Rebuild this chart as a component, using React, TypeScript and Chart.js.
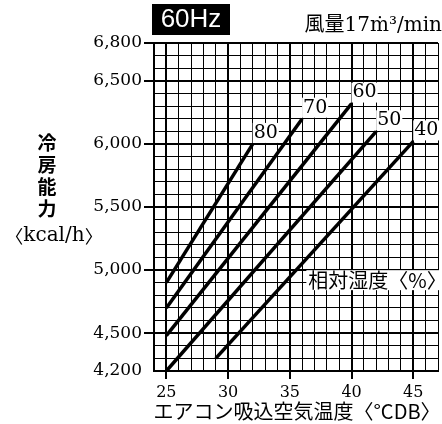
import React, { useEffect, useRef } from "react";
import { Chart, registerables } from "chart.js";

Chart.register(...registerables);

// Relative humidity curves (%), each a straight segment start -> end
const RH_LABELS = ["80", "70", "60", "50", "40"];
const START_TEMP = [25, 25, 25, 25, 29];
const START_CAP = [4900, 4700, 4480, 4200, 4300];
const END_TEMP = [32, 36, 40, 42, 45];
const END_CAP = [6000, 6200, 6320, 6100, 6020];

const X_TICKS = [25, 30, 35, 40, 45];
const Y_TICKS = [4200, 4500, 5000, 5500, 6000, 6500, 6800];

const X_MIN = 24;
const X_MAX = 47;
const Y_MIN = 4200;
const Y_MAX = 6800;

const TITLE_BOX = "60Hz";
const TITLE_RIGHT = "風量17ṁ³/min";
const Y_TITLE_CHARS = ["冷", "房", "能", "力"];
const Y_TITLE_UNIT = ["〈", "kcal/h", "〉"];
const X_TITLE = "エアコン吸込空気温度〈°CDB〉";
const RH_TITLE = "相対湿度〈%〉";

const SERIF = '"DejaVu Serif", "Noto Sans CJK JP", serif';
const CJK = '"Noto Sans CJK JP", "DejaVu Serif", sans-serif';

const textPlugin = {
  id: "texts",
  afterDraw(chart: any) {
    const ctx = chart.ctx;
    const xs = chart.scales.x;
    const ys = chart.scales.y;
    ctx.save();
    // 60Hz box
    ctx.fillStyle = "#000";
    ctx.fillRect(152, 4, 78, 31);
    ctx.fillStyle = "#fff";
    ctx.font = '26px "Liberation Sans", sans-serif';
    ctx.textAlign = "center";
    ctx.textBaseline = "middle";
    ctx.fillText(TITLE_BOX, 191, 20);
    // air flow
    ctx.fillStyle = "#000";
    ctx.font = "20px " + SERIF;
    ctx.textAlign = "right";
    ctx.textBaseline = "alphabetic";
    ctx.fillText(TITLE_RIGHT, 442, 31);
    // x title
    ctx.textAlign = "center";
    ctx.textBaseline = "middle";
    ctx.font = "20px " + CJK;
    ctx.fillText(X_TITLE, (xs.left + xs.right) / 2 + 1, 411);
    // y title
    ctx.font = "bold 19px " + CJK;
    Y_TITLE_CHARS.forEach((c, i) => ctx.fillText(c, 47, 143 + i * 22));
    // unit, pieces drawn left to right
    const fonts = ["18px " + CJK, "20px " + SERIF, "18px " + CJK];
    const widths = Y_TITLE_UNIT.map((t, i) => {
      ctx.font = fonts[i];
      return ctx.measureText(t).width;
    });
    const total = widths.reduce((a, b) => a + b, 0);
    let ux = 54 - total / 2;
    ctx.textAlign = "left";
    Y_TITLE_UNIT.forEach((t, i) => {
      ctx.font = fonts[i];
      ctx.fillText(t, ux, 236);
      ux += widths[i];
    });
    // line labels
    ctx.textAlign = "center";
    ctx.font = "19px " + SERIF;
    RH_LABELS.forEach((lab, i) => {
      const px = xs.getPixelForValue(END_TEMP[i]) + 13;
      const py = ys.getPixelForValue(END_CAP[i]) - 11;
      const w = ctx.measureText(lab).width;
      ctx.fillStyle = "#fff";
      ctx.fillRect(px - w / 2 - 1, py - 10, w + 2, 20);
      ctx.fillStyle = "#000";
      ctx.fillText(lab, px, py);
    });
    // RH title
    ctx.font = "20px " + CJK;
    ctx.textAlign = "left";
    const rx = xs.getPixelForValue(36.5);
    const ry = ys.getPixelForValue(4920);
    const rw = ctx.measureText(RH_TITLE).width;
    ctx.fillStyle = "#fff";
    ctx.fillRect(rx - 2, ry - 10, rw + 4, 20);
    ctx.fillStyle = "#000";
    ctx.fillText(RH_TITLE, rx, ry);
    ctx.restore();
  },
};

export default function App() {
  const ref = useRef<HTMLCanvasElement | null>(null);
  useEffect(() => {
    if (!ref.current) return;
    const datasets = RH_LABELS.map((lab, i) => ({
      label: lab,
      data: [
        { x: START_TEMP[i], y: START_CAP[i] },
        { x: END_TEMP[i], y: END_CAP[i] },
      ],
      borderColor: "#000",
      borderWidth: 3.5,
      pointRadius: 0,
      fill: false,
    }));
    const chart = new Chart(ref.current, {
      type: "line",
      data: { datasets },
      plugins: [textPlugin],
      options: {
        responsive: false,
        animation: false,
        events: [],
        layout: { padding: { top: 43, left: 0, right: 0, bottom: 0 } },
        plugins: { legend: { display: false }, tooltip: { enabled: false } },
        scales: {
          x: {
            type: "linear",
            min: X_MIN,
            max: X_MAX,
            afterBuildTicks: (s: any) => {
              const t = [];
              for (let v = X_MIN; v <= X_MAX; v++) t.push({ value: v });
              s.ticks = t;
            },
            afterFit: (s: any) => {
              s.height = 53;
            },
            ticks: {
              autoSkip: false,
              maxRotation: 0,
              color: "#000",
              padding: 4,
              font: { family: SERIF, size: 16 },
              callback: (v: any) => (X_TICKS.includes(v) ? String(v) : ""),
            },
            grid: {
              color: "#000",
              lineWidth: (c: any) => (c.tick && c.tick.value % 5 === 0 ? 2 : 1),
              tickLength: 8,
              tickWidth: 2,
              tickColor: (c: any) =>
                c.tick && X_TICKS.includes(c.tick.value) ? "#000" : "rgba(0,0,0,0)",
            },
            border: { color: "#000", width: 2 },
            title: { display: false },
          },
          y: {
            type: "linear",
            min: Y_MIN,
            max: Y_MAX,
            afterBuildTicks: (s: any) => {
              const t = [];
              for (let v = Y_MIN; v <= Y_MAX; v += 100) t.push({ value: v });
              s.ticks = t;
            },
            afterFit: (s: any) => {
              s.width = 154;
            },
            ticks: {
              autoSkip: false,
              color: "#000",
              padding: 2,
              font: { family: SERIF, size: 17 },
              callback: (v: any) =>
                Y_TICKS.includes(v) ? Number(v).toLocaleString("en-US") : "",
            },
            grid: {
              color: "#000",
              lineWidth: (c: any) =>
                c.tick && (c.tick.value % 500 === 0 || c.tick.value === Y_MAX) ? 2 : 1,
              tickLength: 10,
              tickWidth: 2,
              tickColor: (c: any) =>
                c.tick && Y_TICKS.includes(c.tick.value) && c.tick.value !== Y_MIN
                  ? "#000"
                  : "rgba(0,0,0,0)",
            },
            border: { color: "#000", width: 2 },
          },
        },
      },
    } as any);
    return () => chart.destroy();
  }, []);
  return (
    <div style={{ position: "absolute", left: 0, top: 0, width: 442, height: 424, background: "#fff" }}>
      <canvas ref={ref} width={442} height={424} style={{ display: "block" }} />
    </div>
  );
}
